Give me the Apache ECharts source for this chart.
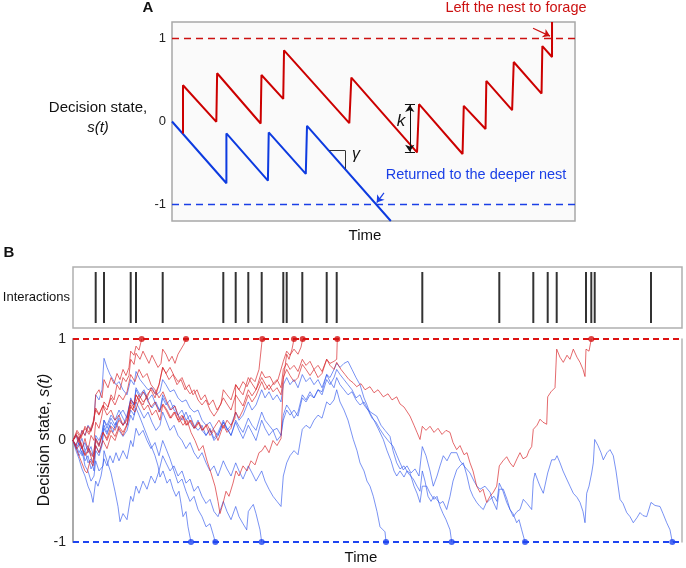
<!DOCTYPE html>
<html>
<head>
<meta charset="utf-8">
<script src="https://cdn.jsdelivr.net/npm/echarts@6/dist/echarts.min.js"></script>
<style>
  html, body { margin: 0; padding: 0; background: #fff; }
  #chart { width: 686px; height: 568px; }
</style>
</head>
<body>
<div id="chart"></div>
<script>
// ---- Panel A: idealised decision state (time 0..100) ----
const aRedTime = [2.73, 2.73, 11.0, 11.2, 22.0, 22.2, 27.6, 27.8, 44.0, 44.5, 60.8, 61.3, 72.1, 72.4, 77.8, 78.0, 84.4, 84.8, 91.7, 91.9, 94.3, 94.3];
const aRedState = [-0.144, 0.437, -0.004, 0.582, -0.024, 0.561, 0.273, 0.858, -0.02, 0.529, -0.373, 0.209, -0.392, 0.189, -0.091, 0.489, 0.137, 0.718, 0.337, 0.91, 0.778, 1.2];
const aBlueTime = [0, 13.5, 13.5, 23.8, 24.0, 33.2, 33.5, 54.3];
const aBlueState = [0, -0.745, -0.144, -0.713, -0.132, -0.632, -0.052, -1.2];
const stateTicks = [-1, 0, 1];

// ---- Interactions (same time units as panel B, 0..609) ----
const interactionTimes = [22.7, 31, 57.7, 63, 89.7, 150.3, 162.7, 175.3, 188.7, 210.3, 213.7, 229.3, 253.7, 263.7, 349.3, 426.3, 460.3, 474.7, 483.7, 513, 518.3, 521.7, 578];

// ---- Panel B: simulated trajectories [time, state] ----
const red1 = [[0,0],[3,0.06],[6,-0.02],[9,0.1],[12,0.05],[15,0.14],[18,0.09],[21,0.2],[22.7,0.45],[26,0.5],[29,0.42],[31,0.6],[35,0.52],[38,0.62],[41,0.56],[44,0.66],[47,0.6],[50,0.7],[53,0.64],[56,0.72],[57.7,0.88],[61,0.84],[63,0.93],[66,0.89],[68.7,1]];
const red2 = [[0,0],[3,-0.05],[6,0.04],[9,-0.08],[12,0.02],[15,-0.1],[18,0.05],[21,0],[22.7,0.18],[26,0.12],[29,0.25],[31,0.38],[35,0.33],[38,0.45],[41,0.4],[44,0.55],[47,0.5],[50,0.62],[53,0.58],[56,0.64],[57.7,0.8],[61,0.75],[63,0.86],[67,0.8],[70,0.88],[73,0.82],[76,0.76],[79,0.84],[82,0.78],[85,0.72],[88,0.76],[89.7,0.9],[93,0.85],[96,0.78],[99,0.83],[102,0.76],[105,0.85],[108,0.9],[111,0.95],[113,1]];
const red3 = [[0,0],[4,-0.08],[8,-0.02],[12,-0.15],[16,-0.1],[20,-0.22],[22.7,0],[26,-0.06],[30,0.08],[34,0.02],[38,0.14],[42,0.1],[46,0.2],[50,0.15],[54,0.22],[57.7,0.4],[62,0.36],[66,0.45],[70,0.38],[74,0.42],[78,0.33],[82,0.38],[86,0.28],[90,0.36],[94,0.3],[98,0.22],[102,0.28],[106,0.18],[110,0.24],[114,0.15],[118,0.2],[122,0.12],[126,0.18],[130,0.1],[134,0.16],[138,0.08],[142,0.14],[146,0.2],[150.3,0.12],[154,0.2],[158,0.15],[162,0.22],[162.7,0.55],[166,0.5],[170,0.58],[174,0.53],[178,0.62],[182,0.58],[186,0.7],[188.7,0.95],[189.3,1]];
const red4 = [[0,0],[4,0.08],[8,0.02],[12,0.14],[16,0.08],[20,0.18],[22.7,0.3],[26,0.25],[30,0.35],[34,0.3],[38,0.42],[42,0.35],[46,0.45],[50,0.4],[54,0.48],[57.7,0.65],[62,0.58],[66,0.7],[70,0.62],[74,0.66],[78,0.55],[82,0.5],[86,0.42],[90,0.48],[94,0.38],[98,0.3],[102,0.34],[106,0.22],[110,0.15],[114,0.2],[118,0.08],[122,0],[126,-0.1],[130,-0.05],[134,-0.2],[138,-0.32],[142,-0.45],[145,-0.6],[147,-0.72],[150,-0.62],[153,-0.5],[156,-0.55],[160,-0.42],[163,-0.3],[166,-0.35],[170,-0.25],[174,-0.3],[178,-0.2],[182,-0.24],[186,-0.12],[189,-0.1],[192,-0.05],[196,-0.12],[200,0],[204,-0.05],[208,0.02],[210.3,0.6],[213.7,0.85],[216,0.8],[219,0.9],[221,1]];
const red5 = [[0,0],[4,-0.1],[8,-0.2],[12,-0.3],[14,-0.32],[17,-0.2],[20,-0.25],[22.7,-0.05],[26,-0.12],[30,0],[34,-0.08],[38,0.05],[42,0],[46,0.12],[50,0.05],[54,0.15],[57.7,0.33],[62,0.28],[66,0.4],[70,0.35],[74,0.45],[78,0.5],[82,0.42],[86,0.55],[89.7,0.72],[92,0.68],[96,0.6],[100,0.65],[104,0.55],[108,0.6],[112,0.5],[116,0.55],[120,0.45],[124,0.5],[128,0.4],[132,0.45],[136,0.35],[140,0.4],[144,0.3],[148,0.36],[150.3,0.5],[154,0.45],[158,0.4],[162.7,0.55],[166,0.5],[170,0.45],[175.3,0.62],[179,0.56],[183,0.5],[188.7,0.68],[192,0.62],[197,0.63],[201,0.55],[205,0.6],[210.3,0.78],[213.7,0.88],[217,0.84],[221,0.9],[225,0.85],[228,0.92],[229.7,1]];
const red6 = [[0,0],[4,0.05],[8,-0.06],[12,-0.14],[16,-0.08],[20,-0.16],[22.7,0.02],[26,-0.04],[30,0.08],[34,0],[38,0.1],[42,0.04],[46,0.14],[50,0.08],[54,0.16],[57.7,0.35],[60,0.3],[63,0.45],[66,0.4],[70,0.48],[74,0.42],[78,0.52],[82,0.46],[86,0.55],[89.7,0.72],[93,0.66],[97,0.72],[101,0.64],[105,0.58],[109,0.62],[113,0.52],[117,0.46],[121,0.5],[125,0.4],[129,0.35],[133,0.4],[137,0.3],[141,0.24],[145,0.3],[150.3,0.42],[154,0.36],[158,0.3],[162.7,0.45],[166,0.4],[170,0.34],[175.3,0.5],[179,0.44],[183,0.5],[188.7,0.62],[192,0.56],[196,0.5],[200,0.56],[204,0.6],[208,0.52],[210.3,0.7],[213.7,0.76],[217,0.7],[221,0.74],[225,0.68],[229.3,0.8],[233,0.74],[237,0.78],[241,0.7],[245,0.74],[249,0.68],[253.7,0.8],[257,0.76],[261,0.78],[263.7,0.8],[264.3,1]];
const red7 = [[0,0],[4,0.1],[8,0.04],[12,0.12],[16,0.06],[20,0.15],[22.7,0.32],[26,0.26],[30,0.34],[34,0.25],[38,0.3],[42,0.2],[46,0.25],[50,0.15],[54,0.2],[57.7,0.38],[61,0.32],[63,0.45],[67,0.38],[71,0.3],[75,0.35],[79,0.25],[83,0.3],[87,0.2],[89.7,0.35],[93,0.3],[97,0.22],[101,0.28],[105,0.2],[109,0.25],[113,0.15],[117,0.2],[121,0.12],[125,0.18],[129,0.1],[133,0.15],[137,0.05],[141,0.1],[145,0],[150.3,0.15],[154,0.08],[158,0.12],[162.7,0.28],[166,0.22],[170,0.3],[175.3,0.45],[179,0.38],[183,0.44],[188.7,0.58],[192,0.5],[196,0.55],[200,0.48],[204,0.52],[208,0.45],[210.3,0.62],[213.7,0.7],[217,0.64],[221,0.58],[225,0.62],[229.3,0.75],[233,0.7],[237,0.64],[241,0.7],[245,0.62],[249,0.66],[253.7,0.8],[257,0.74],[261,0.7],[263.7,0.77],[268,0.7],[272,0.65],[276,0.6],[280,0.57],[283.7,0.53],[288,0.56],[292,0.5],[297,0.53],[301,0.47],[305,0.5],[310.3,0.43],[315,0.46],[319,0.4],[323.7,0.43],[327,0.36],[331,0.33],[337,0.24],[341,0.15],[344,0.08],[347,0.01],[349.3,0.14],[353,0.1],[357,0.14],[361,0.08],[365,0.12],[369,0.06],[373,0.1],[377,0.08],[380,-0.02],[383.7,-0.09],[387,-0.05],[391,-0.14],[394,-0.12],[397,-0.22],[400,-0.3],[403.7,-0.45],[407,-0.51],[410,-0.48],[413.7,-0.61],[417,-0.55],[420.3,-0.51],[423.7,-0.45],[426.3,-0.25],[430,-0.2],[433.7,-0.16],[437,-0.22],[440.3,-0.26],[444,-0.18],[447,-0.12],[450,-0.18],[453.7,-0.16],[456,-0.1],[458.7,-0.06],[460.3,0.11],[464,0.15],[467,0.21],[470,0.18],[473.7,0.16],[474.7,0.43],[478,0.48],[482,0.52],[483.7,0.9],[487,0.82],[490.3,0.77],[494,0.84],[497,0.8],[500.3,0.9],[504,0.82],[507,0.77],[510,0.7],[512,0.63],[513,0.9],[516,0.88],[518.3,1]];

const blue1 = [[0,0],[3,-0.08],[6,-0.02],[9,-0.15],[12,-0.1],[15,-0.22],[18,-0.18],[21,-0.3],[22.7,-0.1],[26,-0.15],[29,-0.05],[31,0.12],[34,0.06],[37,0.15],[40,0.08],[43,0.18],[46,0.1],[50,0.04],[54,0.1],[57.7,0.25],[60,0.2],[63,0.32],[66,0.25],[70,0.15],[74,0.05],[78,-0.05],[82,-0.15],[85,-0.25],[87,-0.36],[90,-0.3],[94,-0.42],[97,-0.38],[100,-0.48],[103,-0.55],[106,-0.5],[108,-0.62],[110,-0.75],[113,-0.7],[115,-0.85],[118,-1]];
const blue2 = [[0,0],[3,-0.1],[6,-0.18],[9,-0.28],[12,-0.35],[15,-0.45],[18,-0.52],[20,-0.61],[22.7,-0.4],[25,-0.45],[28,-0.35],[31,-0.18],[34,-0.25],[37,-0.15],[40,-0.22],[43,-0.12],[46,-0.2],[50,-0.1],[54,-0.18],[57.7,0],[60,-0.06],[63,0.12],[66,0.05],[70,0.1],[74,0],[78,-0.08],[82,-0.02],[86,-0.15],[89.7,0],[93,-0.08],[97,-0.18],[101,-0.3],[105,-0.42],[109,-0.38],[113,-0.5],[117,-0.6],[121,-0.55],[125,-0.68],[129,-0.75],[133,-0.85],[137,-0.82],[140,-0.92],[142.3,-1]];
const blue3 = [[0,0],[3,-0.06],[6,-0.15],[9,-0.1],[12,-0.25],[15,-0.3],[18,-0.4],[21,-0.35],[22.7,-0.2],[26,-0.3],[30,-0.25],[31,-0.1],[34,-0.2],[38,-0.32],[42,-0.5],[45,-0.65],[47,-0.8],[50,-0.72],[54,-0.78],[57.7,-0.55],[60,-0.6],[63,-0.45],[66,-0.52],[70,-0.4],[74,-0.48],[78,-0.35],[82,-0.42],[86,-0.3],[89.7,-0.15],[93,-0.22],[97,-0.3],[101,-0.25],[105,-0.35],[109,-0.3],[113,-0.42],[117,-0.38],[121,-0.5],[125,-0.45],[129,-0.55],[133,-0.62],[137,-0.58],[141,-0.7],[145,-0.75],[150.3,-0.6],[154,-0.7],[158,-0.78],[162.7,-0.65],[166,-0.75],[170,-0.82],[173.7,-0.88],[175.3,-0.7],[178,-0.66],[180.3,-0.63],[183,-0.72],[187,-0.88],[188.7,-1]];
const blue4 = [[0,0],[3,0.05],[6,-0.05],[9,0.02],[12,-0.1],[15,-0.05],[18,-0.15],[21,-0.12],[22.7,0.05],[26,0],[29,0.08],[31,0.2],[34,0.15],[38,0.25],[42,0.2],[46,0.3],[50,0.22],[54,0.15],[57.7,0.3],[61,0.25],[63,0.38],[67,0.3],[71,0.22],[75,0.28],[79,0.18],[83,0.1],[87,0.15],[89.7,0.28],[93,0.2],[97,0.1],[101,0.15],[105,0.05],[109,0],[113,-0.08],[117,-0.02],[121,-0.12],[125,-0.18],[129,-0.12],[133,-0.22],[137,-0.3],[141,-0.25],[145,-0.35],[150.3,-0.2],[154,-0.28],[158,-0.35],[162.7,-0.22],[166,-0.3],[170,-0.38],[175.3,-0.25],[179,-0.32],[183,-0.4],[188.7,-0.3],[192,-0.4],[196,-0.48],[200,-0.55],[204,-0.6],[208,-0.65],[210.3,-0.35],[213.7,-0.22],[217,-0.15],[221,-0.1],[225,-0.14],[229.3,0.11],[233,0.15],[237,0.12],[241,0.2],[245,0.25],[249,0.22],[253.7,0.38],[257,0.35],[261,0.4],[263.7,0.5],[267,0.38],[271,0.3],[275,0.2],[280.3,0.01],[284,-0.1],[287,-0.22],[291,-0.3],[294,-0.4],[297,-0.45],[300.3,-0.55],[304,-0.7],[307,-0.85],[310,-0.88],[312,-0.9],[313,-1]];
const blue5 = [[0,0],[3,0.06],[6,0],[9,0.1],[12,0.05],[15,0.15],[18,0.1],[21,0.2],[22.7,0.45],[26,0.4],[29,0.5],[31,0.81],[34,0.72],[37,0.65],[40,0.6],[43,0.55],[46,0.58],[50,0.5],[54,0.45],[57.7,0.6],[61,0.55],[63,0.68],[67,0.6],[71,0.55],[75,0.5],[79,0.52],[83,0.45],[87,0.48],[89.7,0.6],[93,0.55],[97,0.48],[101,0.5],[105,0.42],[109,0.38],[113,0.4],[117,0.32],[121,0.28],[125,0.3],[129,0.2],[133,0.15],[137,0.18],[141,0.1],[145,0.05],[150.3,0.18],[154,0.12],[158,0.05],[162.7,0.2],[166,0.14],[170,0.08],[175.3,0.22],[179,0.15],[183,0.1],[188.7,0.28],[192,0.2],[196,0.15],[200,0.1],[204,0.12],[208,0.05],[210.3,0.2],[213.7,0.3],[217,0.25],[221,0.3],[225,0.24],[229.3,0.42],[233,0.38],[237,0.45],[241,0.42],[245,0.5],[249,0.48],[253.7,0.65],[257,0.62],[261,0.7],[263.7,0.76],[267,0.72],[271,0.76],[275,0.78],[279,0.7],[283,0.62],[287,0.55],[291,0.42],[294,0.35],[297,0.27],[301,0.2],[305,0.12],[310.3,0.01],[314,-0.1],[318,-0.2],[321,-0.3],[323.7,-0.35],[327,-0.3],[331,-0.36],[334,-0.3],[337,-0.32],[341,-0.45],[344,-0.52],[347,-0.61],[349.3,-0.45],[353.7,-0.45],[357,-0.52],[361,-0.58],[364,-0.55],[367,-0.65],[370,-0.72],[373,-0.78],[377,-0.88],[378.7,-1]];
const blue6 = [[0,0],[3,-0.05],[6,0.03],[9,-0.08],[12,-0.02],[15,-0.12],[18,-0.06],[21,-0.18],[22.7,0.02],[26,-0.05],[29,0.05],[31,0.2],[34,0.12],[38,0.22],[42,0.15],[46,0.25],[50,0.3],[54,0.22],[57.7,0.42],[61,0.35],[63,0.52],[67,0.45],[71,0.5],[75,0.4],[79,0.45],[83,0.35],[87,0.3],[89.7,0.45],[93,0.38],[97,0.3],[101,0.35],[105,0.25],[109,0.2],[113,0.28],[117,0.18],[121,0.12],[125,0.2],[129,0.1],[133,0.05],[137,0.12],[141,0.02],[145,0.08],[150.3,0.2],[154,0.12],[158,0.05],[162.7,0.18],[166,0.1],[170,0.02],[175.3,0.15],[179,0.08],[183,0],[188.7,0.2],[192,0.12],[196,0.05],[200,0.1],[204,0],[208,0.05],[210.3,0.25],[213.7,0.35],[217,0.3],[221,0.22],[225,0.28],[229.3,0.45],[233,0.4],[237,0.48],[241,0.42],[245,0.5],[249,0.45],[253.7,0.6],[257,0.55],[261,0.62],[263.7,0.7],[267,0.65],[271,0.6],[275,0.55],[279,0.5],[283,0.42],[287,0.45],[291,0.35],[295,0.3],[299,0.22],[303,0.18],[307,0.11],[311,0.05],[315,0],[320.3,-0.06],[324,-0.15],[327,-0.22],[330.3,-0.29],[334,-0.25],[338,-0.32],[342,-0.28],[346,-0.35],[349.3,-0.06],[353,-0.15],[357,-0.3],[360.3,-0.45],[364,-0.35],[367,-0.25],[370.3,-0.15],[374,-0.2],[378,-0.12],[383.7,-0.12],[387,-0.2],[391,-0.25],[397,-0.32],[401,-0.4],[404,-0.45],[407,-0.48],[412,-0.45],[417,-0.51],[420,-0.6],[423.7,-0.68],[426.3,-0.48],[430.3,-0.48],[434,-0.58],[437,-0.68],[440,-0.72],[443.7,-0.81],[446,-0.78],[448.7,-0.88],[452,-1]];
const blue7 = [[0,0],[3,-0.04],[6,-0.12],[9,-0.06],[12,-0.2],[15,-0.15],[18,-0.28],[21,-0.22],[22.7,-0.05],[26,-0.12],[29,-0.02],[31,0.15],[34,0.08],[38,0.18],[42,0.12],[46,0.22],[50,0.15],[54,0.25],[57.7,0.4],[61,0.35],[63,0.5],[67,0.42],[71,0.48],[75,0.38],[79,0.32],[83,0.38],[87,0.28],[89.7,0.42],[93,0.35],[97,0.4],[101,0.3],[105,0.25],[109,0.3],[113,0.2],[117,0.25],[121,0.15],[125,0.1],[129,0.15],[133,0.05],[137,0.1],[141,0],[145,0.05],[150.3,0.18],[154,0.1],[158,0.15],[162.7,0.28],[166,0.2],[170,0.25],[175.3,0.38],[179,0.3],[183,0.35],[188.7,0.5],[192,0.42],[196,0.48],[200,0.4],[204,0.45],[208,0.38],[210.3,0.55],[213.7,0.62],[217,0.55],[221,0.6],[225,0.52],[229.3,0.65],[233,0.58],[237,0.62],[241,0.55],[245,0.6],[249,0.52],[253.7,0.65],[257,0.58],[261,0.52],[263.7,0.62],[267,0.55],[271,0.5],[275,0.45],[279,0.48],[283,0.4],[287,0.35],[291,0.38],[295,0.3],[299,0.27],[303.7,0.24],[308,0.15],[312,0.1],[317,0.04],[320,-0.1],[323.7,-0.22],[327,-0.28],[331,-0.25],[335,-0.32],[340.3,-0.38],[344,-0.45],[347,-0.5],[349.3,-0.3],[352,-0.4],[355,-0.55],[358,-0.6],[361,-0.55],[363.7,-0.58],[367,-0.62],[370,-0.6],[373.7,-0.68],[377,-0.55],[380,-0.4],[383.7,-0.29],[387,-0.25],[390.3,-0.22],[394,-0.35],[397,-0.48],[400,-0.55],[403.7,-0.61],[407,-0.65],[410.3,-0.68],[413,-0.62],[417,-0.58],[421,-0.55],[424,-0.6],[426.3,-0.42],[430,-0.5],[433.7,-0.61],[437,-0.68],[440.3,-0.75],[444,-0.7],[447,-0.68],[450.3,-0.58],[454,-0.62],[458.7,-0.68],[460.3,-0.4],[462,-0.32],[465,-0.4],[467,-0.45],[470.3,-0.52],[474.7,-0.32],[478.7,-0.19],[482,-0.19],[484,-0.15],[487,-0.22],[490,-0.3],[493.7,-0.38],[497,-0.45],[500.3,-0.52],[504,-0.56],[507,-0.61],[510,-0.7],[512,-0.81],[513.7,-0.52],[516,-0.45],[518.7,-0.32],[520.3,-0.22],[521.7,0.01],[525,-0.05],[528,-0.12],[530.3,-0.19],[534,-0.12],[537,-0.09],[540.3,-0.15],[543,-0.3],[547,-0.58],[550,-0.62],[553.7,-0.71],[557,-0.75],[560.3,-0.81],[564,-0.76],[567,-0.71],[570,-0.74],[573.7,-0.75],[578,-0.61],[582,-0.64],[587,-0.65],[590,-0.72],[593.7,-0.81],[597,-0.88],[599.3,-1]];

const redPaths = [red1, red2, red3, red4, red5, red6, red7];
const bluePaths = [blue1, blue2, blue3, blue4, blue5, blue6, blue7];
const redEnds = [68.7, 113, 189.3, 221, 229.7, 264.3, 518.3];
const blueEnds = [118, 142.3, 188.7, 313, 378.7, 452, 599.3];

const FONT = "'Liberation Sans', Arial, sans-serif";
const RED = "#cc1111";
const BLUE = "#1a3fe6";

const zip = (xs, ys) => xs.map((x, i) => [x, ys[i]]);

const chart = echarts.init(document.getElementById("chart"));

// text labels placed around the panels
function label(text, x, y, opts) {
  opts = opts || {};
  return {
    type: "text",
    x: x,
    y: y,
    rotation: opts.rotation || 0,
    silent: true,
    z: 100,
    style: Object.assign({
      text: text,
      fill: opts.color || "#111",
      fontSize: opts.size || 15,
      fontFamily: FONT,
      fontWeight: opts.weight || "normal",
      fontStyle: opts.italic ? "italic" : "normal",
      align: opts.align || "center",
      textAlign: opts.align || "center",
      verticalAlign: "middle",
      textVerticalAlign: "middle"
    }, opts.extra || {})
  };
}

const series = [];

// panel A dashed thresholds
series.push({
  type: "line", xAxisIndex: 0, yAxisIndex: 0, data: [[0, 1], [100, 1]],
  showSymbol: false, silent: true,
  lineStyle: { color: RED, width: 1.5, type: [7, 5] }
});
series.push({
  type: "line", xAxisIndex: 0, yAxisIndex: 0, data: [[0, -1], [100, -1]],
  showSymbol: false, silent: true,
  lineStyle: { color: BLUE, width: 1.5, type: [7, 5] }
});
// panel A sawtooth paths
series.push({
  type: "line", xAxisIndex: 0, yAxisIndex: 0, data: zip(aBlueTime, aBlueState),
  showSymbol: false, silent: true, clip: true,
  lineStyle: { color: "#0d3be0", width: 2 }
});
series.push({
  type: "line", xAxisIndex: 0, yAxisIndex: 0, data: zip(aRedTime, aRedState),
  showSymbol: false, silent: true, clip: true,
  lineStyle: { color: "#cc0000", width: 2 },
  markLine: {
    silent: true,
    symbolSize: 7,
    label: { show: false },
    data: [
      // gamma slope marker
      [{ coord: [39.0, -0.35], symbol: "none", lineStyle: { color: "#333", width: 1, type: "solid" } },
       { coord: [42.97, -0.35], symbol: "none" }],
      [{ coord: [42.97, -0.35], symbol: "none", lineStyle: { color: "#333", width: 1, type: "solid" } },
       { coord: [42.97, -0.57], symbol: "none" }],
      // k double arrow
      [{ coord: [59.0, 0.2], symbol: "arrow", lineStyle: { color: "#111", width: 1, type: "solid" } },
       { coord: [59.0, -0.365], symbol: "arrow" }],
      [{ coord: [57.8, 0.209], symbol: "none", lineStyle: { color: "#111", width: 1, type: "solid" } },
       { coord: [60.3, 0.209], symbol: "none" }],
      [{ coord: [57.8, -0.373], symbol: "none", lineStyle: { color: "#111", width: 1, type: "solid" } },
       { coord: [60.3, -0.373], symbol: "none" }],
      // pointer arrows
      [{ coord: [89.6, 1.125], symbol: "none", lineStyle: { color: RED, width: 1.2, type: "solid" } },
       { coord: [93.8, 1.03], symbol: "arrow" }],
      [{ coord: [52.6, -0.86], symbol: "none", lineStyle: { color: BLUE, width: 1.2, type: "solid" } },
       { coord: [50.8, -0.978], symbol: "arrow" }]
    ]
  }
});

// interactions
series.push({
  type: "scatter", xAxisIndex: 1, yAxisIndex: 1,
  data: interactionTimes.map(t => [t, 0.5]),
  symbol: "rect", symbolSize: [2, 51], silent: true,
  itemStyle: { color: "#000" }
});

// panel B trajectories
bluePaths.forEach(p => series.push({
  type: "line", xAxisIndex: 2, yAxisIndex: 2, data: p,
  showSymbol: false, silent: true,
  lineStyle: { color: "rgba(40,80,235,0.62)", width: 1 }
}));
redPaths.forEach(p => series.push({
  type: "line", xAxisIndex: 2, yAxisIndex: 2, data: p,
  showSymbol: false, silent: true,
  lineStyle: { color: "rgba(215,35,40,0.68)", width: 1 }
}));
// panel B thresholds and absorption dots
series.push({
  type: "line", xAxisIndex: 2, yAxisIndex: 2, data: [[0, 1], [609, 1]],
  showSymbol: false, silent: true, z: 5,
  lineStyle: { color: "#dd1111", width: 2, type: [6, 4] }
});
series.push({
  type: "line", xAxisIndex: 2, yAxisIndex: 2, data: [[0, -1], [609, -1]],
  showSymbol: false, silent: true, z: 5,
  lineStyle: { color: "#1f45f0", width: 2, type: [6, 4] }
});
series.push({
  type: "scatter", xAxisIndex: 2, yAxisIndex: 2, z: 6,
  data: redEnds.map(t => [t, 1]), symbolSize: 6, silent: true,
  itemStyle: { color: "#d41414" }
});
series.push({
  type: "scatter", xAxisIndex: 2, yAxisIndex: 2, z: 6,
  data: blueEnds.map(t => [t, -1]), symbolSize: 6, silent: true,
  itemStyle: { color: "#1f45f0" }
});

const hiddenX = (min, max, grid) => ({
  type: "value", gridIndex: grid, min: min, max: max, show: false
});

const option = {
  animation: false,
  backgroundColor: "#fff",
  grid: [
    { left: 172, top: 22, width: 403, height: 199, show: true,
      backgroundColor: "#fafafa", borderColor: "#a8a8a8", borderWidth: 1.5 },
    { left: 73, top: 267, width: 609, height: 61, show: true,
      backgroundColor: "#fff", borderColor: "#b0b0b0", borderWidth: 1.5 },
    { left: 73, top: 339, width: 609, height: 203, show: false }
  ],
  xAxis: [hiddenX(0, 100, 0), hiddenX(0, 609, 1), hiddenX(0, 609, 2)],
  yAxis: [
    { type: "value", gridIndex: 0, min: -1.2, max: 1.2,
      axisLine: { show: false }, axisTick: { show: false }, splitLine: { show: false },
      axisLabel: { customValues: stateTicks, fontSize: 13, color: "#222", fontFamily: FONT, margin: 6 } },
    { type: "value", gridIndex: 1, min: 0, max: 1, show: false },
    { type: "value", gridIndex: 2, min: -1, max: 1, interval: 1,
      axisLine: { show: true, lineStyle: { color: "#aaa", width: 2 } },
      axisTick: { show: false }, splitLine: { show: false },
      axisLabel: { fontSize: 14, color: "#222", fontFamily: FONT, margin: 7 } },
    { type: "value", gridIndex: 2, min: -1, max: 1, position: "right",
      axisLine: { show: true, lineStyle: { color: "#b5b5b5", width: 1.5 } },
      axisTick: { show: false }, splitLine: { show: false }, axisLabel: { show: false } }
  ],
  series: series,
  graphic: [
    label("A", 148, 8, { weight: "bold", size: 15 }),
    label("Decision state,", 98, 108),
    label("s(t)", 98, 128, { italic: true }),
    label("Time", 365, 236),
    label("Left the nest to forage", 516, 8, { color: RED, size: 14.5 }),
    label("Returned to the deeper nest", 476, 175, { color: BLUE, size: 14.5 }),
    label("k", 401, 121, { italic: true, size: 17 }),
    label("\u03b3", 356, 155, { italic: true, size: 16 }),
    label("B", 9, 253, { weight: "bold", size: 15 }),
    label("Interactions", 70, 297, { align: "right", size: 13 }),
    label("", 45, 440, {
      rotation: Math.PI / 2, size: 16,
      extra: {
        text: "{a|Decision state, }{b|s(t)}",
        rich: {
          a: { fontSize: 16, fontFamily: FONT, fill: "#111" },
          b: { fontSize: 16, fontFamily: FONT, fontStyle: "italic", fill: "#111" }
        }
      }
    }),
    label("Time", 361, 558)
  ]
};

chart.setOption(option);
</script>
</body>
</html>
